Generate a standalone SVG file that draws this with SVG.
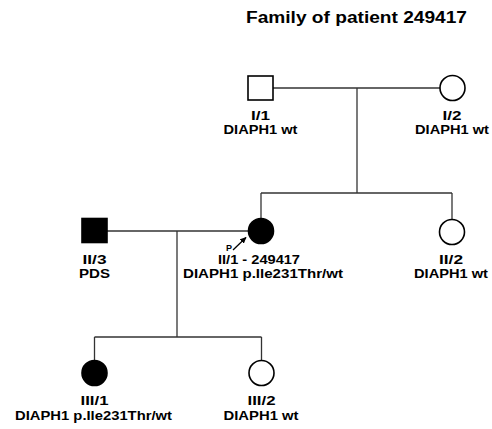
<svg xmlns="http://www.w3.org/2000/svg" width="492" height="429" viewBox="0 0 492 429">
<style>
text{font-family:"Liberation Sans",Arial,sans-serif;font-weight:bold;fill:#000;text-anchor:middle}
.lbl{font-size:13.5px}
.ttl{font-size:16px}
.ln{stroke:#333;stroke-width:1.3;fill:none}
.open{fill:#fff;stroke:#000;stroke-width:1.6}
.aff{fill:#000;stroke:#000;stroke-width:1.6}
</style>
<defs>
<marker id="ah" viewBox="0 0 10 10" refX="9" refY="5" markerWidth="5" markerHeight="5" orient="auto" markerUnits="strokeWidth">
<path d="M0,0.5 L10,5 L0,9.5 z" fill="#000"/>
</marker>
</defs>
<rect width="492" height="429" fill="#fff"/>
<text class="ttl" x="356.5" y="23" textLength="221" lengthAdjust="spacingAndGlyphs">Family of patient 249417</text>
<g id="connectors">
<path class="ln" d="M273,88 H440"/>
<path class="ln" d="M357,88 V193"/>
<path class="ln" d="M261,193 H452"/>
<path class="ln" d="M261,193 V218"/>
<path class="ln" d="M452,193 V219"/>
<path class="ln" d="M107,231 H248"/>
<path class="ln" d="M177,231 V337"/>
<path class="ln" d="M94.5,337 H261.5"/>
<path class="ln" d="M94.5,337 V360.5"/>
<path class="ln" d="M261.5,337 V360.5"/>
</g>
<g id="I1">
<rect class="open" x="248" y="76" width="25" height="24"/>
<text class="lbl" x="260.5" y="120" textLength="19" lengthAdjust="spacingAndGlyphs">I/1</text>
<text class="lbl" x="260.5" y="134" textLength="74" lengthAdjust="spacingAndGlyphs">DIAPH1 wt</text>
</g>
<g id="I2">
<circle class="open" cx="452.5" cy="88" r="12.5"/>
<text class="lbl" x="452" y="120" textLength="19" lengthAdjust="spacingAndGlyphs">I/2</text>
<text class="lbl" x="452" y="134" textLength="74" lengthAdjust="spacingAndGlyphs">DIAPH1 wt</text>
</g>
<g id="II3">
<rect class="aff" x="82" y="218.5" width="25" height="24"/>
<text class="lbl" x="94.5" y="264" textLength="24" lengthAdjust="spacingAndGlyphs">II/3</text>
<text class="lbl" x="94.5" y="278" textLength="31" lengthAdjust="spacingAndGlyphs">PDS</text>
</g>
<g id="II1">
<circle class="aff" cx="261" cy="231" r="12.5"/>
<text x="229" y="250.5" style="font-size:9px">P</text>
<path d="M233,250 L246,237.5" stroke="#000" stroke-width="1.3" marker-end="url(#ah)"/>
<text class="lbl" x="259" y="264" textLength="82" lengthAdjust="spacingAndGlyphs">II/1 - 249417</text>
<text class="lbl" x="263" y="278" textLength="160" lengthAdjust="spacingAndGlyphs">DIAPH1 p.Ile231Thr/wt</text>
</g>
<g id="II2">
<circle class="open" cx="452" cy="232" r="12.5"/>
<text class="lbl" x="451" y="264" textLength="24" lengthAdjust="spacingAndGlyphs">II/2</text>
<text class="lbl" x="451" y="278" textLength="74" lengthAdjust="spacingAndGlyphs">DIAPH1 wt</text>
</g>
<g id="III1">
<circle class="aff" cx="94.5" cy="373" r="12.5"/>
<text class="lbl" x="94.5" y="405" textLength="28" lengthAdjust="spacingAndGlyphs">III/1</text>
<text class="lbl" x="93.5" y="420" textLength="157" lengthAdjust="spacingAndGlyphs">DIAPH1 p.Ile231Thr/wt</text>
</g>
<g id="III2">
<circle class="open" cx="261.5" cy="373" r="12.5"/>
<text class="lbl" x="261.5" y="405" textLength="28" lengthAdjust="spacingAndGlyphs">III/2</text>
<text class="lbl" x="261" y="420" textLength="75" lengthAdjust="spacingAndGlyphs">DIAPH1 wt</text>
</g>
</svg>
